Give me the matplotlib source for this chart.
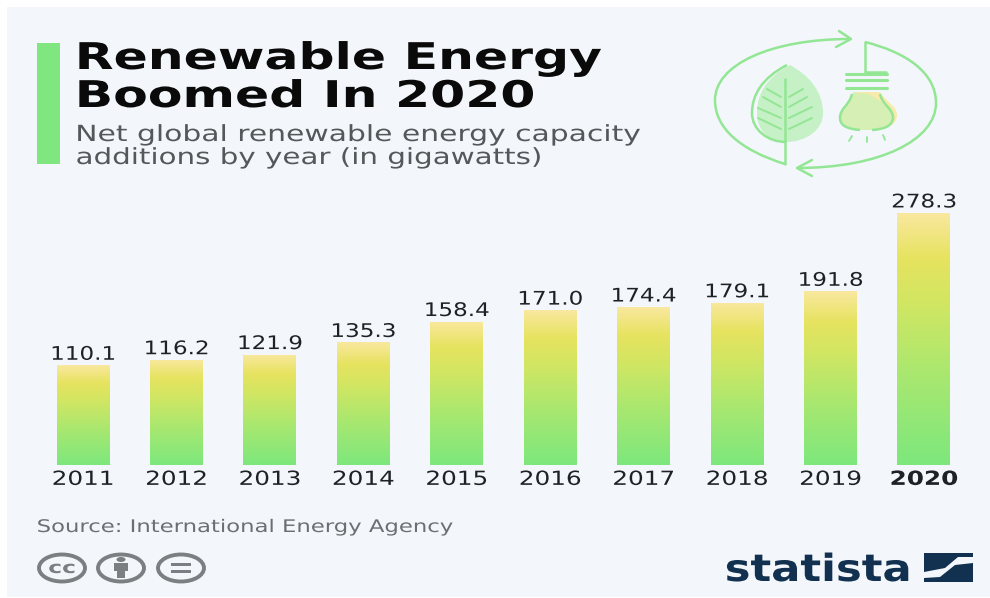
import matplotlib
matplotlib.use('Agg')
import matplotlib.pyplot as plt
import matplotlib.patheffects as pe
import numpy as np
from matplotlib.colors import LinearSegmentedColormap
from matplotlib.patches import Ellipse, PathPatch, Polygon, Rectangle
from matplotlib.path import Path
from matplotlib.transforms import Affine2D

years = ['2011', '2012', '2013', '2014', '2015', '2016', '2017', '2018', '2019', '2020']
capacity = [110.1, 116.2, 121.9, 135.3, 158.4, 171.0, 174.4, 179.1, 191.8, 278.3]

W, H = 990, 598
GREEN = '#93e694'
DARK = '#1e2226'
NAVY = '#12304f'
GREY = '#7c7f82'
BG = '#f3f7fb'


# the reference lettering is wider than any installed font, so widen the glyphs
class Widen(pe.AbstractPathEffect):
    def __init__(self, sx, centre=False):
        self.sx = sx
        self.centre = centre

    def draw_path(self, renderer, gc, tpath, affine, rgbFace=None):
        ext = tpath.get_extents()
        x0 = (ext.x0 + ext.x1) / 2 if self.centre else ext.x0
        t = Affine2D().translate(-x0, 0).scale(self.sx, 1).translate(x0, 0) + affine
        renderer.draw_path(gc, tpath, t, rgbFace)


fig = plt.figure(figsize=(W / 100, H / 100), dpi=100, facecolor='white')

# overlay in pixel coordinates for the furniture
bg = fig.add_axes([0, 0, 1, 1])
bg.set_xlim(0, W)
bg.set_ylim(H, 0)
bg.axis('off')
bg.add_patch(Rectangle((7, 7), 983, 590, color=BG, lw=0))
bg.add_patch(Rectangle((37, 43), 23, 121, color='#7fe680', lw=0))

bg.text(76, 69, 'Renewable Energy', fontsize=26.5, fontweight='bold', color='#0a0a0a',
        path_effects=[Widen(1.37)])
bg.text(76, 107, 'Boomed In 2020', fontsize=26.5, fontweight='bold', color='#0a0a0a',
        path_effects=[Widen(1.37)])
bg.text(76, 141, 'Net global renewable energy capacity', fontsize=16, color='#55585b',
        path_effects=[Widen(1.34)])
bg.text(76, 164, 'additions by year (in gigawatts)', fontsize=16, color='#55585b',
        path_effects=[Widen(1.32)])
bg.text(37, 532, 'Source: International Energy Agency', fontsize=12.5, color='#6c6f72',
        path_effects=[Widen(1.31)])


def curve(pts, color=GREEN, lw=1.8, fill=None):
    codes = [Path.MOVETO] + [Path.CURVE4] * (len(pts) - 1)
    bg.add_patch(PathPatch(Path(pts, codes), facecolor=fill if fill else 'none',
                           edgecolor=color, lw=lw))


def line(xs, ys, color=GREEN, lw=1.8):
    bg.plot(xs, ys, color=color, lw=lw, solid_capstyle='round')


# arrows round the icon
curve([(785, 164), (740, 150), (715, 128), (715, 100),
       (715, 65), (770, 39), (850, 39)])
line([839, 851, 836], [31, 39, 47])
curve([(865, 42), (905, 52), (936, 72), (936, 103),
       (936, 140), (880, 168), (797, 168)])
line([865, 865, 886], [42, 72, 72])
line([812, 797, 812], [160, 168, 176])

# leaf
curve([(790, 65), (765, 78), (757, 95), (757, 113),
       (757, 130), (768, 142), (786, 142),
       (806, 142), (823, 130), (823, 113),
       (823, 92), (810, 76), (790, 65)], color='none', fill='#c6f0c6', lw=0)
curve([(787, 65), (762, 78), (752, 95), (752, 113),
       (752, 130), (768, 142), (786, 142)])
line([785, 785], [79, 164])
for xa, ya, xb, yb in [(767, 89, 781, 97), (763, 97, 781, 107), (758, 108, 781, 118), (758, 118, 781, 129),
                       (803, 89, 789, 97), (807, 97, 789, 107), (812, 107, 789, 118), (812, 118, 789, 129)]:
    line([xa, xb], [ya, yb], lw=1.4)

# bulb
curve([(856, 92), (858, 105), (845, 108), (845, 118),
       (845, 128), (858, 130), (868, 130),
       (885, 130), (897, 126), (897, 115),
       (897, 106), (887, 103), (880, 92)], color='none', fill='#f7ebab', lw=0)
curve([(853, 92), (851, 106), (840, 108), (840, 118),
       (840, 128), (852, 130), (866, 130),
       (880, 130), (892, 126), (892, 116),
       (892, 108), (880, 100), (868, 94)], color='none', fill='#d5efb4', lw=0)
curve([(852, 94), (849, 106), (840, 108), (840, 118),
       (840, 126), (848, 129), (860, 130)])
curve([(880, 94), (883, 106), (893, 108), (893, 118),
       (892, 126), (885, 129), (872, 130)])
for y0 in [74, 80, 88]:
    line([846, 887], [y0, y0], lw=2.2)
line([849, 852], [141, 136], lw=1.3)
line([867, 867], [137, 142], lw=1.3)
line([883, 885], [135, 140], lw=1.3)

# licence badges
for cx in [62, 121, 181]:
    bg.add_patch(Ellipse((cx, 568), 46, 27, facecolor='none', edgecolor=GREY, lw=2.8))
bg.text(62, 568, 'cc', fontsize=12, fontweight='bold', color=GREY, ha='center', va='center',
        path_effects=[Widen(1.4, centre=True)])
bg.add_patch(Ellipse((121, 559.5), 9, 5, color=GREY, lw=0))
bg.add_patch(Rectangle((114, 563), 14, 8, color=GREY, lw=0))
bg.add_patch(Rectangle((117, 571), 8, 7, color=GREY, lw=0))
bg.add_patch(Rectangle((171, 563), 20, 3, color=GREY, lw=0))
bg.add_patch(Rectangle((171, 570), 20, 3, color=GREY, lw=0))

# statista logo
bg.text(725, 581, 'statista', fontsize=27, fontweight='bold', color=NAVY,
        path_effects=[Widen(1.155)])
bg.add_patch(Polygon([(924, 553), (973, 553), (973, 557), (958, 557), (945, 568), (924, 572)], color=NAVY, lw=0))
bg.add_patch(Polygon([(973, 563), (973, 582), (924, 582), (924, 578), (940, 577), (955, 565)], color=NAVY, lw=0))

# bars
x_left, x_right = 36.3, 970.7
y_zero, y_top = 465, 213
ax = fig.add_axes([x_left / W, 1 - y_zero / H, (x_right - x_left) / W, (y_zero - y_top + 40) / H])
ax.patch.set_alpha(0)

grad = LinearSegmentedColormap.from_list('g', [(0, '#7de77d'), (0.35, '#a8e870'), (0.65, '#d2e662'),
                                               (0.82, '#e6e35f'), (1, '#f9e89f')])
ramp = np.linspace(0, 1, 256).reshape(-1, 1)
bars = ax.bar(range(len(years)), capacity, width=0.567, color='none', lw=0)
for b in bars:
    im = ax.imshow(ramp, cmap=grad, origin='lower', aspect='auto', zorder=2,
                   extent=[b.get_x(), b.get_x() + b.get_width(), 0, b.get_height()])
    im.set_clip_path(b)
ax.set_xlim(-0.5, 9.5)
ax.set_ylim(0, 278.3 * (y_zero - y_top + 40) / (y_zero - y_top))

for i, v in enumerate(capacity):
    ax.annotate(f'{v:.1f}', (i, v), xytext=(0, 4), textcoords='offset points', ha='center',
                va='baseline', fontsize=13.5, color=DARK, path_effects=[Widen(1.23, centre=True)])

ax.set_xticks(range(len(years)))
ax.set_xticklabels(years, fontsize=14, color=DARK)
for t in ax.get_xticklabels():
    t.set_path_effects([Widen(1.27, centre=True)])
ax.get_xticklabels()[-1].set_fontweight('bold')
ax.tick_params(axis='x', length=0, pad=3.5)
ax.set_yticks([])
for s in ax.spines.values():
    s.set_visible(False)

fig.savefig('out.png', dpi=100)
